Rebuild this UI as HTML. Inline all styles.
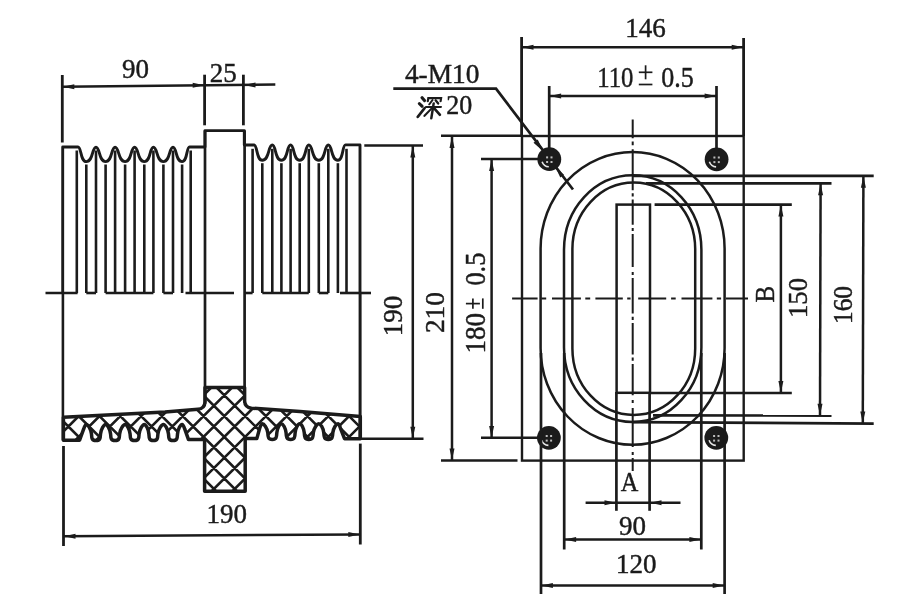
<!DOCTYPE html>
<html><head><meta charset="utf-8"><title>drawing</title>
<style>
html,body{margin:0;padding:0;background:#fff;}
body{width:900px;height:604px;overflow:hidden;}
svg{display:block;}
svg text{font-family:"Liberation Serif",serif;fill:#1b1b1b;stroke:#1b1b1b;stroke-width:0.45px;}
</style></head><body>
<svg width="900" height="604" viewBox="0 0 900 604" stroke="#1b1b1b" fill="none">
<rect x="0" y="0" width="900" height="604" fill="#ffffff" stroke="none"/>
<path d="M62.7,293 L62.7,147.0 L78.0,147.0 C81.5,147.0 80.3,161.6 86.3,161.6 C93.3,161.6 91.9,147.2 96.0,147.2 C100.0,147.2 98.7,161.6 105.6,161.6 C112.4,161.6 111.1,147.2 115.1,147.2 C119.3,147.2 117.9,161.6 125.1,161.6 C131.9,161.6 130.6,147.2 134.6,147.2 C138.7,147.2 137.3,161.6 144.3,161.6 C150.9,161.6 149.6,147.2 153.4,147.2 C157.6,147.2 156.2,161.6 163.4,161.6 C170.3,161.6 169.0,147.2 173.0,147.2 C176.8,147.2 175.5,161.6 182.1,161.6 C187.4,161.6 186.4,147.0 189.5,147.0 L205,147.0 L205,130.6 L244.3,130.6 L244.3,145.0 L254,145.0 C257.5,145.0 256.3,160.3 262.3,160.3 C269.5,160.3 268.1,145.0 272.3,145.0 C276.1,145.0 274.8,160.3 281.4,160.3 C288.0,160.3 286.7,145.0 290.6,145.0 C294.4,145.0 293.1,160.3 299.7,160.3 C306.3,160.3 305.0,145.0 308.8,145.0 C313.0,145.0 311.6,160.3 318.8,160.3 C325.6,160.3 324.3,145.0 328.3,145.0 C332.3,145.0 331.0,160.3 337.9,160.3 C343.4,160.3 342.3,144.9 345.5,144.9 L360,144.9 L360,293" stroke-width="2.9" fill="none" stroke-linejoin="round"/>
<line x1="76.8" y1="150.5" x2="76.8" y2="293.0" stroke-width="2.6" />
<line x1="96.0" y1="150.5" x2="96.0" y2="293.0" stroke-width="2.6" />
<line x1="115.1" y1="150.5" x2="115.1" y2="293.0" stroke-width="2.6" />
<line x1="134.6" y1="150.5" x2="134.6" y2="293.0" stroke-width="2.6" />
<line x1="153.4" y1="150.5" x2="153.4" y2="293.0" stroke-width="2.6" />
<line x1="173.0" y1="150.5" x2="173.0" y2="293.0" stroke-width="2.6" />
<line x1="190.7" y1="150.5" x2="190.7" y2="293.0" stroke-width="2.6" />
<line x1="86.3" y1="164.5" x2="86.3" y2="293.0" stroke-width="2.6" />
<line x1="105.6" y1="164.5" x2="105.6" y2="293.0" stroke-width="2.6" />
<line x1="125.1" y1="164.5" x2="125.1" y2="293.0" stroke-width="2.6" />
<line x1="144.3" y1="164.5" x2="144.3" y2="293.0" stroke-width="2.6" />
<line x1="163.4" y1="164.5" x2="163.4" y2="293.0" stroke-width="2.6" />
<line x1="182.1" y1="164.5" x2="182.1" y2="293.0" stroke-width="2.6" />
<line x1="252.6" y1="148.8" x2="252.6" y2="293.0" stroke-width="2.6" />
<line x1="272.3" y1="148.8" x2="272.3" y2="293.0" stroke-width="2.6" />
<line x1="290.6" y1="148.8" x2="290.6" y2="293.0" stroke-width="2.6" />
<line x1="308.8" y1="148.8" x2="308.8" y2="293.0" stroke-width="2.6" />
<line x1="328.3" y1="148.8" x2="328.3" y2="293.0" stroke-width="2.6" />
<line x1="346.5" y1="148.8" x2="346.5" y2="293.0" stroke-width="2.6" />
<line x1="262.3" y1="163.2" x2="262.3" y2="293.0" stroke-width="2.6" />
<line x1="281.4" y1="163.2" x2="281.4" y2="293.0" stroke-width="2.6" />
<line x1="299.7" y1="163.2" x2="299.7" y2="293.0" stroke-width="2.6" />
<line x1="318.8" y1="163.2" x2="318.8" y2="293.0" stroke-width="2.6" />
<line x1="337.9" y1="163.2" x2="337.9" y2="293.0" stroke-width="2.6" />
<line x1="45.5" y1="293.0" x2="77.6" y2="293.0" stroke-width="2.6" />
<line x1="86.3" y1="293.0" x2="96.0" y2="293.0" stroke-width="2.6" />
<line x1="105.6" y1="293.0" x2="153.4" y2="293.0" stroke-width="2.6" />
<line x1="163.4" y1="293.0" x2="173.0" y2="293.0" stroke-width="2.6" />
<line x1="185.5" y1="293.0" x2="234.0" y2="293.0" stroke-width="2.6" />
<line x1="244.3" y1="293.0" x2="252.6" y2="293.0" stroke-width="2.6" />
<line x1="262.3" y1="293.0" x2="308.8" y2="293.0" stroke-width="2.6" />
<line x1="318.8" y1="293.0" x2="328.3" y2="293.0" stroke-width="2.6" />
<line x1="340.0" y1="293.0" x2="371.0" y2="293.0" stroke-width="2.6" />
<line x1="62.9" y1="293.0" x2="62.9" y2="440.3" stroke-width="2.6" />
<line x1="360.1" y1="293.0" x2="360.1" y2="438.7" stroke-width="3.0" />
<line x1="205.0" y1="130.6" x2="205.0" y2="404.0" stroke-width="2.7" />
<line x1="244.6" y1="130.6" x2="244.6" y2="403.0" stroke-width="2.7" />
<clipPath id="cs"><path d="M63.4,417.3 L165,412.0 L198,409.3 Q204.6,408.7 205,402 L205,387.4 L244.6,387.4 L244.6,401 Q245,407.5 251.5,408.2 L300,411.5 L360.3,416.6 L360.3,438.7 L344.5,438.7 L340.5,428.3 Q339.1,423.8 337.9,423.8 C336.3,423.8 333.3,427.9 332.8,432.9 C332.6,436.9 332.6,439.4 328.3,439.4 C324.0,439.4 324.0,436.9 323.8,432.9 C323.3,427.9 320.4,423.8 318.8,423.8 C317.2,423.8 313.8,427.9 313.3,432.9 C313.1,436.9 313.1,439.4 308.8,439.4 C304.5,439.4 304.5,436.9 304.3,432.9 C303.8,427.9 301.3,423.8 299.7,423.8 C298.1,423.8 295.6,427.9 295.1,432.9 C294.9,436.9 294.9,439.4 290.6,439.4 C286.3,439.4 286.3,436.9 286.1,432.9 C285.6,427.9 283.0,423.8 281.4,423.8 C279.8,423.8 277.3,427.9 276.8,432.9 C276.6,436.9 276.6,439.4 272.3,439.4 C268.0,439.4 268.0,436.9 267.8,432.9 C267.3,427.9 263.9,423.8 262.3,423.8 Q261.1,423.8 259.7,428.3 L256.8,438.6 L245.2,438.6 L245.2,491.3 L204.6,491.3 L204.6,439.6 L188.5,439.6 L184.7,428.9 Q183.3,424.4 182.1,424.4 C180.5,424.4 178.0,429.0 177.5,434.0 C177.3,438.0 177.3,440.5 173.0,440.5 C168.7,440.5 168.7,438.0 168.5,434.0 C168.0,429.0 165.0,424.4 163.4,424.4 C161.8,424.4 158.4,429.0 157.9,434.0 C157.7,438.0 157.7,440.5 153.4,440.5 C149.1,440.5 149.1,438.0 148.9,434.0 C148.4,429.0 145.9,424.4 144.3,424.4 C142.7,424.4 139.6,429.0 139.1,434.0 C138.9,438.0 138.9,440.5 134.6,440.5 C130.3,440.5 130.3,438.0 130.1,434.0 C129.6,429.0 126.7,424.4 125.1,424.4 C123.5,424.4 120.1,429.0 119.6,434.0 C119.4,438.0 119.4,440.5 115.1,440.5 C110.8,440.5 110.8,438.0 110.6,434.0 C110.1,429.0 107.2,424.4 105.6,424.4 C104.0,424.4 101.0,429.0 100.5,434.0 C100.3,438.0 100.3,440.5 96.0,440.5 C91.7,440.5 91.7,438.0 91.5,434.0 C91.0,429.0 87.9,424.4 86.3,424.4 Q85.1,424.4 83.7,428.9 L79.6,440.2 L63.4,440.2 Z"/></clipPath>
<path d="M-384.4,380 L-504.4,500 M-415.0,380 L-295.0,500 M-363.6,380 L-483.6,500 M-394.2,380 L-274.2,500 M-342.8,380 L-462.8,500 M-373.4,380 L-253.4,500 M-322.0,380 L-442.0,500 M-352.6,380 L-232.6,500 M-301.2,380 L-421.2,500 M-331.8,380 L-211.8,500 M-280.4,380 L-400.4,500 M-311.0,380 L-191.0,500 M-259.6,380 L-379.6,500 M-290.2,380 L-170.2,500 M-238.8,380 L-358.8,500 M-269.4,380 L-149.4,500 M-218.0,380 L-338.0,500 M-248.6,380 L-128.6,500 M-197.2,380 L-317.2,500 M-227.8,380 L-107.8,500 M-176.4,380 L-296.4,500 M-207.0,380 L-87.0,500 M-155.6,380 L-275.6,500 M-186.2,380 L-66.2,500 M-134.8,380 L-254.8,500 M-165.4,380 L-45.4,500 M-114.0,380 L-234.0,500 M-144.6,380 L-24.6,500 M-93.2,380 L-213.2,500 M-123.8,380 L-3.8,500 M-72.4,380 L-192.4,500 M-103.0,380 L17.0,500 M-51.6,380 L-171.6,500 M-82.2,380 L37.8,500 M-30.8,380 L-150.8,500 M-61.4,380 L58.6,500 M-10.0,380 L-130.0,500 M-40.6,380 L79.4,500 M10.8,380 L-109.2,500 M-19.8,380 L100.2,500 M31.6,380 L-88.4,500 M1.0,380 L121.0,500 M52.4,380 L-67.6,500 M21.8,380 L141.8,500 M73.2,380 L-46.8,500 M42.6,380 L162.6,500 M94.0,380 L-26.0,500 M63.4,380 L183.4,500 M114.8,380 L-5.2,500 M84.2,380 L204.2,500 M135.6,380 L15.6,500 M105.0,380 L225.0,500 M156.4,380 L36.4,500 M125.8,380 L245.8,500 M177.2,380 L57.2,500 M146.6,380 L266.6,500 M198.0,380 L78.0,500 M167.4,380 L287.4,500 M218.8,380 L98.8,500 M188.2,380 L308.2,500 M239.6,380 L119.6,500 M209.0,380 L329.0,500 M260.4,380 L140.4,500 M229.8,380 L349.8,500 M281.2,380 L161.2,500 M250.6,380 L370.6,500 M302.0,380 L182.0,500 M271.4,380 L391.4,500 M322.8,380 L202.8,500 M292.2,380 L412.2,500 M343.6,380 L223.6,500 M313.0,380 L433.0,500 M364.4,380 L244.4,500 M333.8,380 L453.8,500 M385.2,380 L265.2,500 M354.6,380 L474.6,500 M406.0,380 L286.0,500 M375.4,380 L495.4,500 M426.8,380 L306.8,500 M396.2,380 L516.2,500 M447.6,380 L327.6,500 M417.0,380 L537.0,500 M468.4,380 L348.4,500 M437.8,380 L557.8,500 M489.2,380 L369.2,500 M458.6,380 L578.6,500 M510.0,380 L390.0,500 M479.4,380 L599.4,500 M530.8,380 L410.8,500 M500.2,380 L620.2,500 M551.6,380 L431.6,500 M521.0,380 L641.0,500 M572.4,380 L452.4,500 M541.8,380 L661.8,500 M593.2,380 L473.2,500 M562.6,380 L682.6,500 M614.0,380 L494.0,500 M583.4,380 L703.4,500 M634.8,380 L514.8,500 M604.2,380 L724.2,500 M655.6,380 L535.6,500 M625.0,380 L745.0,500 M676.4,380 L556.4,500 M645.8,380 L765.8,500 M697.2,380 L577.2,500 M666.6,380 L786.6,500 M718.0,380 L598.0,500 M687.4,380 L807.4,500 M738.8,380 L618.8,500 M708.2,380 L828.2,500 M759.6,380 L639.6,500 M729.0,380 L849.0,500 M780.4,380 L660.4,500 M749.8,380 L869.8,500 M801.2,380 L681.2,500 M770.6,380 L890.6,500 M822.0,380 L702.0,500 M791.4,380 L911.4,500 M842.8,380 L722.8,500 M812.2,380 L932.2,500 " stroke-width="2.6" fill="none" clip-path="url(#cs)"/>
<path d="M63.4,417.3 L165,412.0 L198,409.3 Q204.6,408.7 205,402 L205,387.4 L244.6,387.4 L244.6,401 Q245,407.5 251.5,408.2 L300,411.5 L360.3,416.6 L360.3,438.7 L344.5,438.7 L340.5,428.3 Q339.1,423.8 337.9,423.8 C336.3,423.8 333.3,427.9 332.8,432.9 C332.6,436.9 332.6,439.4 328.3,439.4 C324.0,439.4 324.0,436.9 323.8,432.9 C323.3,427.9 320.4,423.8 318.8,423.8 C317.2,423.8 313.8,427.9 313.3,432.9 C313.1,436.9 313.1,439.4 308.8,439.4 C304.5,439.4 304.5,436.9 304.3,432.9 C303.8,427.9 301.3,423.8 299.7,423.8 C298.1,423.8 295.6,427.9 295.1,432.9 C294.9,436.9 294.9,439.4 290.6,439.4 C286.3,439.4 286.3,436.9 286.1,432.9 C285.6,427.9 283.0,423.8 281.4,423.8 C279.8,423.8 277.3,427.9 276.8,432.9 C276.6,436.9 276.6,439.4 272.3,439.4 C268.0,439.4 268.0,436.9 267.8,432.9 C267.3,427.9 263.9,423.8 262.3,423.8 Q261.1,423.8 259.7,428.3 L256.8,438.6 L245.2,438.6 L245.2,491.3 L204.6,491.3 L204.6,439.6 L188.5,439.6 L184.7,428.9 Q183.3,424.4 182.1,424.4 C180.5,424.4 178.0,429.0 177.5,434.0 C177.3,438.0 177.3,440.5 173.0,440.5 C168.7,440.5 168.7,438.0 168.5,434.0 C168.0,429.0 165.0,424.4 163.4,424.4 C161.8,424.4 158.4,429.0 157.9,434.0 C157.7,438.0 157.7,440.5 153.4,440.5 C149.1,440.5 149.1,438.0 148.9,434.0 C148.4,429.0 145.9,424.4 144.3,424.4 C142.7,424.4 139.6,429.0 139.1,434.0 C138.9,438.0 138.9,440.5 134.6,440.5 C130.3,440.5 130.3,438.0 130.1,434.0 C129.6,429.0 126.7,424.4 125.1,424.4 C123.5,424.4 120.1,429.0 119.6,434.0 C119.4,438.0 119.4,440.5 115.1,440.5 C110.8,440.5 110.8,438.0 110.6,434.0 C110.1,429.0 107.2,424.4 105.6,424.4 C104.0,424.4 101.0,429.0 100.5,434.0 C100.3,438.0 100.3,440.5 96.0,440.5 C91.7,440.5 91.7,438.0 91.5,434.0 C91.0,429.0 87.9,424.4 86.3,424.4 Q85.1,424.4 83.7,428.9 L79.6,440.2 L63.4,440.2 Z" stroke-width="3.5" fill="none" stroke-linejoin="round"/>
<line x1="62.3" y1="75.0" x2="62.3" y2="142.5" stroke-width="2.8" />
<line x1="204.6" y1="74.7" x2="204.6" y2="125.3" stroke-width="2.8" />
<line x1="243.4" y1="74.7" x2="243.4" y2="125.3" stroke-width="2.8" />
<line x1="62.3" y1="86.8" x2="275.3" y2="84.6" stroke-width="2.5" />
<polygon points="62.8,86.8 74.3,84.3 74.3,89.3" fill="#1b1b1b" stroke="none"/>
<polygon points="204.2,85.3 192.7,87.8 192.7,82.8" fill="#1b1b1b" stroke="none"/>
<polygon points="244.0,84.9 255.5,82.4 255.5,87.4" fill="#1b1b1b" stroke="none"/>
<line x1="63.5" y1="446.0" x2="63.5" y2="546.0" stroke-width="2.8" />
<line x1="360.3" y1="443.6" x2="360.3" y2="544.5" stroke-width="2.8" />
<line x1="63.5" y1="536.2" x2="360.3" y2="534.4" stroke-width="2.5" />
<polygon points="64.0,536.2 75.5,533.7 75.5,538.7" fill="#1b1b1b" stroke="none"/>
<polygon points="359.8,534.4 348.3,536.9 348.3,531.9" fill="#1b1b1b" stroke="none"/>
<line x1="364.3" y1="145.5" x2="423.0" y2="145.5" stroke-width="2.5" />
<line x1="361.0" y1="438.7" x2="423.5" y2="438.7" stroke-width="2.5" />
<line x1="412.8" y1="145.5" x2="412.8" y2="438.7" stroke-width="2.5" />
<polygon points="412.8,145.9 415.3,157.4 410.3,157.4" fill="#1b1b1b" stroke="none"/>
<polygon points="412.8,438.3 410.3,426.8 415.3,426.8" fill="#1b1b1b" stroke="none"/>
<rect x="522" y="136" width="221.7" height="324.6" stroke-width="2.4" fill="none"/>
<line x1="521.6" y1="37.0" x2="521.6" y2="136.0" stroke-width="2.8" />
<line x1="743.6" y1="38.0" x2="743.6" y2="136.0" stroke-width="2.8" />
<line x1="521.6" y1="47.3" x2="743.6" y2="47.3" stroke-width="2.5" />
<polygon points="522.0,47.3 533.5,44.8 533.5,49.8" fill="#1b1b1b" stroke="none"/>
<polygon points="743.2,47.3 731.7,49.8 731.7,44.8" fill="#1b1b1b" stroke="none"/>
<line x1="549.2" y1="86.0" x2="549.2" y2="150.0" stroke-width="2.7" />
<line x1="716.5" y1="86.0" x2="716.5" y2="150.0" stroke-width="2.7" />
<line x1="549.2" y1="96.0" x2="716.5" y2="96.0" stroke-width="2.5" />
<polygon points="549.6,96.0 561.1,93.5 561.1,98.5" fill="#1b1b1b" stroke="none"/>
<polygon points="716.1,96.0 704.6,98.5 704.6,93.5" fill="#1b1b1b" stroke="none"/>
<g transform="rotate(0 645.6 72.3)" stroke-width="1.7"><line x1="638.8000000000001" y1="72.3" x2="652.4" y2="72.3"/><line x1="645.6" y1="65.3" x2="645.6" y2="79.3"/><line x1="638.8000000000001" y1="84.5" x2="652.4" y2="84.5"/></g>
<path d="M393.3,88.7 L496,88.7 L573,189.5" stroke-width="2.7" fill="none" />
<polygon points="543.5,151.5 533.5,142.7 537.7,139.6" fill="#1b1b1b" stroke="none"/>
<polygon points="555.5,167.4 564.0,174.7 560.3,177.5" fill="#1b1b1b" stroke="none"/>
<line x1="441.0" y1="135.7" x2="522.0" y2="135.7" stroke-width="2.5" />
<line x1="441.0" y1="460.4" x2="517.5" y2="460.4" stroke-width="2.5" />
<line x1="452.0" y1="136.0" x2="452.0" y2="460.4" stroke-width="2.5" />
<polygon points="452.0,136.4 454.5,147.9 449.5,147.9" fill="#1b1b1b" stroke="none"/>
<polygon points="452.0,460.0 449.5,448.5 454.5,448.5" fill="#1b1b1b" stroke="none"/>
<line x1="481.0" y1="159.0" x2="540.0" y2="159.0" stroke-width="2.5" />
<line x1="481.0" y1="437.8" x2="540.0" y2="437.8" stroke-width="2.5" />
<line x1="491.6" y1="159.0" x2="491.6" y2="437.8" stroke-width="2.5" />
<polygon points="491.6,159.4 494.1,170.9 489.1,170.9" fill="#1b1b1b" stroke="none"/>
<polygon points="491.6,437.4 489.1,425.9 494.1,425.9" fill="#1b1b1b" stroke="none"/>
<g transform="rotate(-90 472.9 303.6)" stroke-width="1.7"><line x1="467.7" y1="303.6" x2="478.09999999999997" y2="303.6"/><line x1="472.9" y1="296.6" x2="472.9" y2="310.6"/><line x1="467.7" y1="313.5" x2="478.09999999999997" y2="313.5"/></g>
<circle cx="549.3" cy="159.2" r="11.9" fill="#1b1b1b" stroke="none"/>
<path d="M542.1,161.7 A7.6,7.6 0 0 0 548.8,166.8" stroke="#e8e8e8" stroke-width="1.6" fill="none"/>
<rect x="546.1" y="156.4" width="2" height="2" fill="#bdbdbd" stroke="none"/>
<rect x="550.5" y="156.4" width="2" height="2" fill="#bdbdbd" stroke="none"/>
<rect x="546.1" y="161.0" width="2" height="2" fill="#bdbdbd" stroke="none"/>
<rect x="550.5" y="161.0" width="2" height="2" fill="#bdbdbd" stroke="none"/>
<circle cx="716.6" cy="159.3" r="11.9" fill="#1b1b1b" stroke="none"/>
<path d="M709.4,161.8 A7.6,7.6 0 0 0 716.1,166.9" stroke="#e8e8e8" stroke-width="1.6" fill="none"/>
<rect x="713.4" y="156.5" width="2" height="2" fill="#bdbdbd" stroke="none"/>
<rect x="717.8" y="156.5" width="2" height="2" fill="#bdbdbd" stroke="none"/>
<rect x="713.4" y="161.1" width="2" height="2" fill="#bdbdbd" stroke="none"/>
<rect x="717.8" y="161.1" width="2" height="2" fill="#bdbdbd" stroke="none"/>
<circle cx="548.9" cy="437.8" r="11.9" fill="#1b1b1b" stroke="none"/>
<path d="M541.7,440.3 A7.6,7.6 0 0 0 548.4,445.4" stroke="#e8e8e8" stroke-width="1.6" fill="none"/>
<rect x="545.7" y="435.0" width="2" height="2" fill="#bdbdbd" stroke="none"/>
<rect x="550.1" y="435.0" width="2" height="2" fill="#bdbdbd" stroke="none"/>
<rect x="545.7" y="439.6" width="2" height="2" fill="#bdbdbd" stroke="none"/>
<rect x="550.1" y="439.6" width="2" height="2" fill="#bdbdbd" stroke="none"/>
<circle cx="716.3" cy="437.8" r="11.9" fill="#1b1b1b" stroke="none"/>
<path d="M709.1,440.3 A7.6,7.6 0 0 0 715.8,445.4" stroke="#e8e8e8" stroke-width="1.6" fill="none"/>
<rect x="713.1" y="435.0" width="2" height="2" fill="#bdbdbd" stroke="none"/>
<rect x="717.5" y="435.0" width="2" height="2" fill="#bdbdbd" stroke="none"/>
<rect x="713.1" y="439.6" width="2" height="2" fill="#bdbdbd" stroke="none"/>
<rect x="717.5" y="439.6" width="2" height="2" fill="#bdbdbd" stroke="none"/>
<path d="M540.6,248.6 A92.0,96.6 0 0 1 724.6,248.6 L724.6,348.2 A92.0,96.6 0 0 1 540.6,348.2 Z" stroke-width="2.5" fill="none" />
<path d="M564,249.8 A68.7,74.5 0 0 1 701.4,249.8 L701.4,347.5 A68.7,74.5 0 0 1 564,347.5 Z" stroke-width="2.5" fill="none" />
<path d="M572.4,249.1 A61.4,66.6 0 0 1 695.2,249.1 L695.2,348.4 A61.4,66.6 0 0 1 572.4,348.4 Z" stroke-width="2.5" fill="none" />
<rect x="616.6" y="204.6" width="33.4" height="188.2" stroke-width="2.5" fill="none"/>
<line x1="541.0" y1="353.0" x2="541.0" y2="594.0" stroke-width="2.7" />
<line x1="724.6" y1="353.0" x2="724.6" y2="594.0" stroke-width="2.7" />
<line x1="564.2" y1="353.0" x2="564.2" y2="549.5" stroke-width="2.7" />
<line x1="701.3" y1="353.0" x2="701.3" y2="549.5" stroke-width="2.7" />
<line x1="616.4" y1="392.0" x2="616.4" y2="510.8" stroke-width="2.7" />
<line x1="649.6" y1="392.0" x2="649.6" y2="510.8" stroke-width="2.7" />
<line x1="633.0" y1="175.9" x2="873.7" y2="175.9" stroke-width="2.7" />
<line x1="633.0" y1="422.1" x2="873.7" y2="423.6" stroke-width="2.7" />
<line x1="646.0" y1="183.4" x2="831.5" y2="183.4" stroke-width="2.7" />
<line x1="653.0" y1="415.3" x2="831.5" y2="415.6" stroke-width="2.7" />
<line x1="654.6" y1="204.7" x2="791.8" y2="204.7" stroke-width="2.7" />
<line x1="650.0" y1="393.0" x2="791.8" y2="393.0" stroke-width="2.7" />
<line x1="780.9" y1="204.7" x2="780.9" y2="393.0" stroke-width="2.5" />
<polygon points="780.9,205.1 783.4,216.6 778.4,216.6" fill="#1b1b1b" stroke="none"/>
<polygon points="780.9,392.6 778.4,381.1 783.4,381.1" fill="#1b1b1b" stroke="none"/>
<line x1="820.6" y1="183.4" x2="820.0" y2="415.6" stroke-width="2.5" />
<polygon points="820.6,183.8 823.1,195.3 818.1,195.3" fill="#1b1b1b" stroke="none"/>
<polygon points="820.0,415.2 817.5,403.7 822.5,403.7" fill="#1b1b1b" stroke="none"/>
<line x1="863.4" y1="175.9" x2="862.8" y2="423.5" stroke-width="2.5" />
<polygon points="863.4,176.3 865.9,187.8 860.9,187.8" fill="#1b1b1b" stroke="none"/>
<polygon points="862.8,423.1 860.3,411.6 865.3,411.6" fill="#1b1b1b" stroke="none"/>
<path d="M632.7,119.4 L632.7,138.3 M632.7,141.4 L632.7,145.2 M632.7,149.3 L632.7,190.2 M632.7,193.3 L632.7,196.5 M632.7,199.6 L632.7,224.8 M632.7,228 L632.7,231 M632.7,234 L632.7,267 M632.7,272 L632.7,275 M632.7,278 L632.7,313.6 M632.7,316.7 L632.7,319.9 M632.7,323 L632.7,354.5 M632.7,357.6 L632.7,360.8 M632.7,363.9 L632.7,395.3 M632.7,400 L632.7,403 M632.7,408 L632.7,447 M632.7,452 L632.7,455 M632.7,458 L632.7,471" stroke-width="2.0" fill="none" />
<path d="M512.1,298.5 L537.6,298.5 M541.3,298.5 L546.2,298.5 M552,298.5 L580.9,298.5 M585.3,298.5 L590.2,298.5 M595.4,298.5 L622.8,298.5 M627.2,298.5 L630.6,298.5 M638.2,298.5 L666.2,298.5 M671.1,298.5 L675.7,298.5 M681.5,298.5 L712.4,298.5 M716.8,298.5 L721.1,298.5 M726,298.5 L748,298.5" stroke-width="2.0" fill="none" />
<line x1="585.6" y1="502.8" x2="680.5" y2="502.8" stroke-width="2.5" />
<polygon points="616.0,502.8 604.5,505.3 604.5,500.3" fill="#1b1b1b" stroke="none"/>
<polygon points="650.0,502.8 661.5,500.3 661.5,505.3" fill="#1b1b1b" stroke="none"/>
<line x1="564.2" y1="539.6" x2="701.3" y2="539.6" stroke-width="2.5" />
<polygon points="564.6,539.6 576.1,537.1 576.1,542.1" fill="#1b1b1b" stroke="none"/>
<polygon points="700.9,539.6 689.4,542.1 689.4,537.1" fill="#1b1b1b" stroke="none"/>
<line x1="541.0" y1="585.6" x2="724.6" y2="585.6" stroke-width="2.5" />
<polygon points="541.4,585.6 552.9,583.1 552.9,588.1" fill="#1b1b1b" stroke="none"/>
<polygon points="724.2,585.6 712.7,588.1 712.7,583.1" fill="#1b1b1b" stroke="none"/>
<path d="M2.5,2.5 L5.8,5.8" transform="translate(419.8,95.0) skewX(-9)" stroke-width="2.9" fill="none" stroke-linecap="round"/>
<path d="M0.8,8.5 L4.2,11.4" transform="translate(419.8,95.0) skewX(-9)" stroke-width="2.9" fill="none" stroke-linecap="round"/>
<path d="M1.5,21.8 L6.8,13.2" transform="translate(419.8,95.0) skewX(-9)" stroke-width="2.9" fill="none" stroke-linecap="round"/>
<path d="M9,6.2 L9,3.2 L21.8,3.2 L21.8,6.2" transform="translate(419.8,95.0) skewX(-9)" stroke-width="2.2" fill="none" stroke-linecap="round"/>
<path d="M13.4,5.2 L11,9.2" transform="translate(419.8,95.0) skewX(-9)" stroke-width="2.2" fill="none" stroke-linecap="round"/>
<path d="M16.6,5.2 L19.8,8.6" transform="translate(419.8,95.0) skewX(-9)" stroke-width="2.2" fill="none" stroke-linecap="round"/>
<path d="M8,12 L23,12" transform="translate(419.8,95.0) skewX(-9)" stroke-width="2.2" fill="none" stroke-linecap="round"/>
<path d="M15.2,8.5 L15.2,23.3" transform="translate(419.8,95.0) skewX(-9)" stroke-width="2.5" fill="none" stroke-linecap="round"/>
<path d="M14.6,12.6 L8,20.8" transform="translate(419.8,95.0) skewX(-9)" stroke-width="2.2" fill="none" stroke-linecap="round"/>
<path d="M15.8,12.6 L23.3,19.8" transform="translate(419.8,95.0) skewX(-9)" stroke-width="2.5" fill="none" stroke-linecap="round"/>
<g style="opacity:0.999">
<text x="135.5" y="78.3" font-size="27" text-anchor="middle" >90</text>
<text x="223.3" y="81.6" font-size="27" text-anchor="middle" >25</text>
<text x="226.8" y="523.0" font-size="27" text-anchor="middle" >190</text>
<text x="401.8" y="316.0" font-size="27" text-anchor="middle" transform="rotate(-90 401.8 316.0)" fill="#4c4c4c" stroke="#4c4c4c">190</text>
<text x="645.4" y="37.2" font-size="27" text-anchor="middle" >146</text>
<text x="597.2" y="86.6" font-size="29" text-anchor="start" textLength="36.2" lengthAdjust="spacingAndGlyphs" >110</text>
<text x="661.3" y="86.6" font-size="29" text-anchor="start" textLength="32.5" lengthAdjust="spacingAndGlyphs" >0.5</text>
<text x="442.2" y="83.0" font-size="27" text-anchor="middle" textLength="74.5" lengthAdjust="spacingAndGlyphs" >4-M10</text>
<text x="459.2" y="113.6" font-size="27" text-anchor="middle" textLength="26.0" lengthAdjust="spacingAndGlyphs" >20</text>
<text x="444.4" y="312.6" font-size="27" text-anchor="middle" transform="rotate(-90 444.4 312.6)" textLength="41.0" lengthAdjust="spacingAndGlyphs" >210</text>
<text x="484.9" y="353.4" font-size="29" text-anchor="start" transform="rotate(-90 484.9 353.4)" textLength="40.5" lengthAdjust="spacingAndGlyphs" >180</text>
<text x="484.9" y="285.6" font-size="29" text-anchor="start" transform="rotate(-90 484.9 285.6)" textLength="33.0" lengthAdjust="spacingAndGlyphs" >0.5</text>
<text x="774.0" y="302.6" font-size="27" text-anchor="start" transform="rotate(-90 774.0 302.6)" textLength="16.6" lengthAdjust="spacingAndGlyphs" >B</text>
<text x="806.8" y="318.0" font-size="27" text-anchor="start" transform="rotate(-90 806.8 318.0)" textLength="40.0" lengthAdjust="spacingAndGlyphs" >150</text>
<text x="851.6" y="324.0" font-size="27" text-anchor="start" transform="rotate(-90 851.6 324.0)" textLength="38.0" lengthAdjust="spacingAndGlyphs" >160</text>
<text x="629.6" y="491.3" font-size="27" text-anchor="middle" textLength="17.6" lengthAdjust="spacingAndGlyphs" >A</text>
<text x="632.6" y="534.9" font-size="27" text-anchor="middle" >90</text>
<text x="636.2" y="572.9" font-size="27" text-anchor="middle" >120</text>
</g>
</svg>
</body></html>
